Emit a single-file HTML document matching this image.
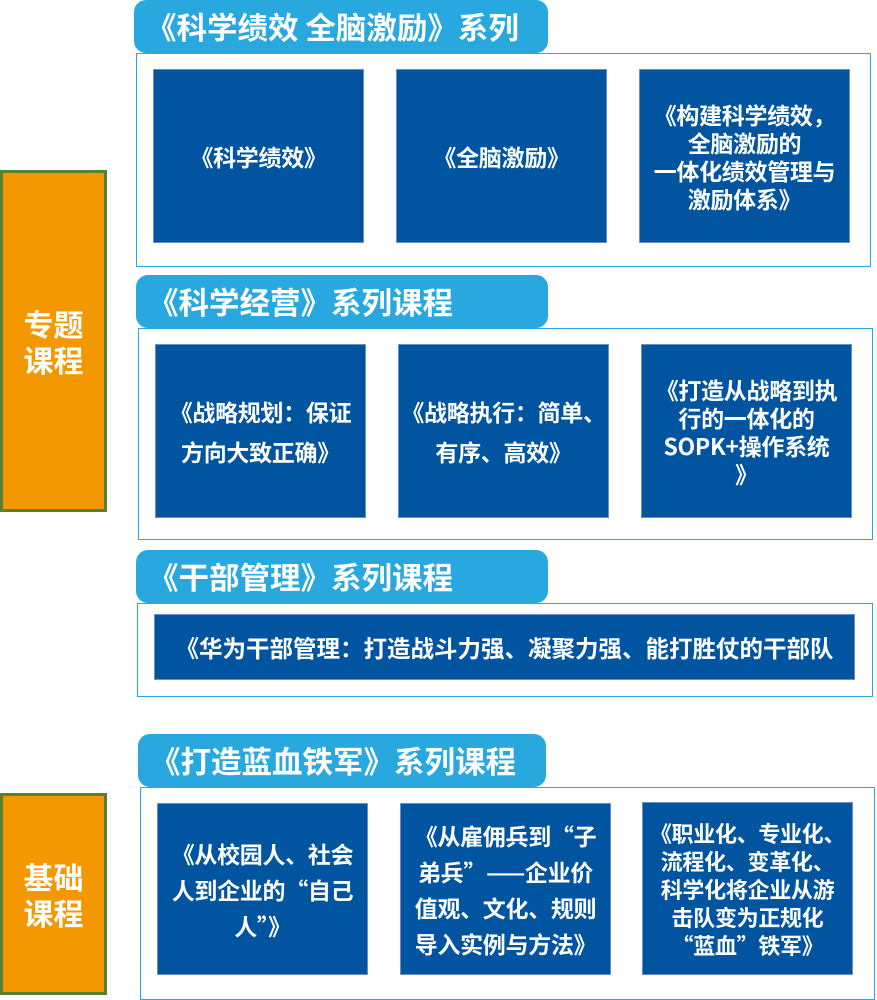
<!DOCTYPE html>
<html><head><meta charset="utf-8"><style>
body{margin:0;width:877px;height:1000px;position:relative;background:#fff;overflow:hidden;font-family:"Liberation Sans","Noto Sans CJK SC",sans-serif;font-weight:bold}
.t{position:absolute;background:#29a8e0;border-radius:12px;color:#fff;font-size:30.5px;line-height:53px;height:53px;box-sizing:border-box;padding-left:12px;white-space:nowrap;font-family:"Noto Sans CJK SC",sans-serif}
.f{position:absolute;border:1px solid #29a8e0;box-sizing:border-box}
.b{position:absolute;background:#0054a0;color:#fff;font-size:23px;display:flex;align-items:center;justify-content:center;text-align:center;line-height:28px;box-sizing:border-box;padding:0;border:1px solid #6b8fc0;font-family:"Noto Sans CJK SC",sans-serif;white-space:nowrap;letter-spacing:-0.3px}
.o{position:absolute;left:0;width:107px;background:#f39800;border:3px solid #548235;box-sizing:border-box;color:#fff;font-size:30px;line-height:36px;display:flex;align-items:center;justify-content:center;text-align:center;font-family:"Noto Sans CJK SC",sans-serif}
</style></head><body>
<div class="o" style="top:170px;height:342px">专题<br>课程</div>
<div class="o" style="top:793px;height:202px">基础<br>课程</div>

<div class="f" style="left:136px;top:53px;width:735px;height:214px"></div>
<div class="t" style="left:134px;top:0;width:414px">《科学绩效 全脑激励》系列</div>
<div class="b" style="left:153px;top:69px;width:211px;height:174px">《科学绩效》</div>
<div class="b" style="left:396px;top:69px;width:211px;height:174px">《全脑激励》</div>
<div class="b" style="left:639px;top:69px;width:211px;height:174px">《构建科学绩效，<br>全脑激励的<br>一体化绩效管理与<br>激励体系》</div>

<div class="f" style="left:138px;top:328px;width:735px;height:212px"></div>
<div class="t" style="left:136px;top:275px;width:412px">《科学经营》系列课程</div>
<div class="b" style="left:155px;top:344px;width:211px;height:174px;line-height:40px">《战略规划：保证<br>方向大致正确》</div>
<div class="b" style="left:398px;top:344px;width:211px;height:174px;line-height:40px">《战略执行：简单、<br>有序、高效》</div>
<div class="b" style="left:641px;top:344px;width:211px;height:174px">《打造从战略到执<br>行的一体化的<br>SOPK+操作系统<br>》</div>

<div class="f" style="left:137px;top:603px;width:736px;height:94px"></div>
<div class="t" style="left:136px;top:550px;width:412px">《干部管理》系列课程</div>
<div class="b" style="left:154px;top:614px;width:701px;height:66px;font-size:23.5px;letter-spacing:0">《华为干部管理：打造战斗力强、凝聚力强、能打胜仗的干部队</div>

<div class="f" style="left:140px;top:787px;width:735px;height:213px"></div>
<div class="t" style="left:138px;top:734px;width:408px">《打造蓝血铁军》系列课程</div>
<div class="b" style="left:157px;top:803px;width:211px;height:172px;line-height:36px">《从校园人、社会<br>人到企业的“自己<br>人”》</div>
<div class="b" style="left:400px;top:803px;width:211px;height:172px;line-height:36px">《从雇佣兵到“子<br>弟兵”——企业价<br>值观、文化、规则<br>导入实例与方法》</div>
<div class="b" style="left:642px;top:802px;width:211px;height:173px;font-size:22px">《职业化、专业化、<br>流程化、变革化、<br>科学化将企业从游<br>击队变为正规化<br>“蓝血”铁军》</div>
</body></html>
